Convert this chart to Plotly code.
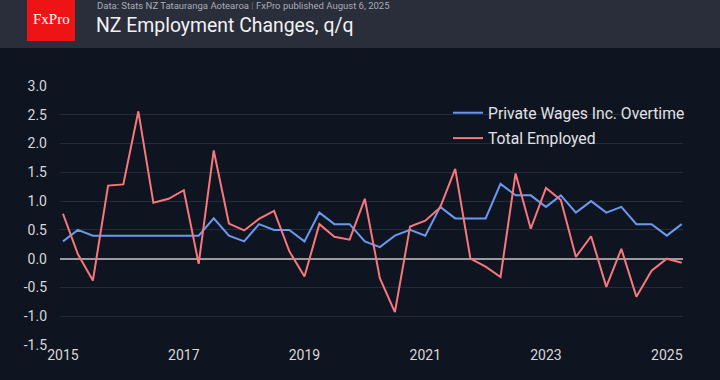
import plotly.graph_objects as go
import pandas as pd

quarters = pd.date_range("2015-01-01", periods=42, freq="QS").strftime("%Y-%m-%d").tolist()

private_wages = [0.3, 0.5, 0.4, 0.4, 0.4, 0.4, 0.4, 0.4, 0.4, 0.4,
                 0.7, 0.4, 0.3, 0.6, 0.5, 0.5, 0.3, 0.8, 0.6, 0.6,
                 0.3, 0.2, 0.4, 0.5, 0.4, 0.9, 0.7, 0.7, 0.7, 1.3,
                 1.1, 1.1, 0.9, 1.1, 0.8, 1.0, 0.8, 0.9, 0.6, 0.6,
                 0.4, 0.6]

total_employed = [0.78, 0.08, -0.38, 1.27, 1.29, 2.56, 0.97, 1.04, 1.19, -0.09,
                  1.88, 0.61, 0.49, 0.69, 0.83, 0.13, -0.31, 0.60, 0.38, 0.33,
                  1.04, -0.34, -0.93, 0.56, 0.66, 0.89, 1.56, 0.0, -0.14, -0.32,
                  1.48, 0.52, 1.23, 1.02, 0.03, 0.39, -0.49, 0.17, -0.66, -0.21,
                  0.0, -0.07]

y_ticks = [3.0, 2.5, 2.0, 1.5, 1.0, 0.5, 0.0, -0.5, -1.0, -1.5]

title_text = "NZ Employment Changes, q/q"
subtitle_text = "Data: Stats NZ Tatauranga Aotearoa <span style='color:#6a6e7a'>|</span> FxPro published August 6, 2025"

BG = "#0e1420"
HEADER = "#2a2d3a"
BLUE = "#6b98ee"
RED = "#f7787c"
FONT = "Roboto"

fig = go.Figure()
fig.add_trace(go.Scatter(x=quarters, y=private_wages, mode="lines",
                         name="Private Wages Inc. Overtime", legendgroup="a",
                         line=dict(color=BLUE, width=2)))
fig.add_trace(go.Scatter(x=quarters, y=total_employed, mode="lines",
                         name="Total Employed", legendgroup="b",
                         line=dict(color=RED, width=2)))

fig.update_layout(
    width=720, height=380,
    paper_bgcolor=BG, plot_bgcolor=BG,
    margin=dict(l=60, r=37, t=86, b=35, autoexpand=False),
    font=dict(family=FONT, color="#d8d8dc", size=14),
    showlegend=True,
    legend=dict(x=1.0 + 7/623, xanchor="right", y=1.0 - 10/259, yanchor="top",
                bgcolor="rgba(0,0,0,0)", font=dict(size=15.7, color="#e2e2e6"),
                itemwidth=30, tracegroupgap=2),
    shapes=[
        dict(type="rect", xref="paper", yref="paper", x0=-60/623, x1=1+37/623,
             y0=1+(86-48)/259, y1=1+86/259, fillcolor=HEADER, line=dict(width=0), layer="below"),
        dict(type="rect", xref="paper", yref="paper", x0=(27-60)/623, x1=(75-60)/623,
             y0=1+(86-41)/259, y1=1+86/259, fillcolor="#ee1416", line=dict(width=0)),
    ],
    annotations=[
        dict(text="FxPro", xref="paper", yref="paper", x=(51-60)/623, y=1+(86-19)/259,
             xanchor="center", yanchor="middle", showarrow=False,
             font=dict(family="Liberation Serif", size=15, color="white")),
        dict(text=subtitle_text, xref="paper", yref="paper", x=(95-60)/623, y=1+(86-6)/259,
             xanchor="left", yanchor="middle", showarrow=False,
             font=dict(family=FONT, size=9.5, color="#a9acb6")),
        dict(text=title_text, xref="paper", yref="paper", x=(94-60)/623, y=1+(86-25)/259,
             xanchor="left", yanchor="middle", showarrow=False,
             font=dict(family=FONT, size=19.4, color="#f2f2f4")),
    ],
)

fig.update_xaxes(
    type="date", range=["2014-12-14", "2025-04-09"],
    tick0="2015-01-01", dtick="M24", tickformat="%Y",
    showgrid=False, zeroline=False, showline=False,
    ticks="", tickfont=dict(size=14, color="#d8d8dc"),
)
fig.update_yaxes(
    range=[-1.5, 3.0], tickvals=y_ticks, ticktext=[f"{v:.1f}" for v in y_ticks],
    showgrid=True, gridcolor="#252c39", gridwidth=1,
    zeroline=True, zerolinecolor="#9a9a9e", zerolinewidth=1.5,
    showline=False, ticks="", ticklabelstandoff=12,
    tickfont=dict(size=14, color="#d8d8dc"),
)

fig.write_html("out.html", config={"displayModeBar": False},
               post_script="document.body.style.margin='0';")
